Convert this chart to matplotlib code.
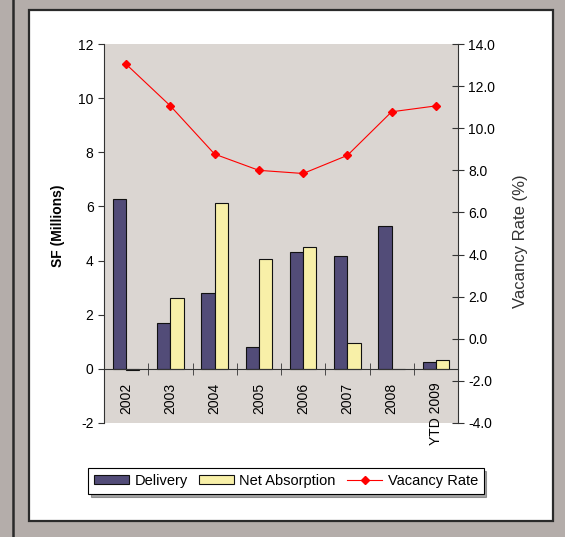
import numpy as np
import matplotlib
matplotlib.use("Agg")
import matplotlib.pyplot as plt
from matplotlib.patches import Rectangle
from matplotlib.lines import Line2D

plt.rcParams["font.family"] = ["Liberation Sans", "DejaVu Sans"]
plt.rcParams["axes.unicode_minus"] = False

# ---- data ----
years = ["2002", "2003", "2004", "2005", "2006", "2007", "2008", "YTD 2009"]
delivery = [6.29, 1.69, 2.81, 0.81, 4.30, 4.16, 5.29, 0.27]
net_absorption = [-0.05, 2.62, 6.13, 4.04, 4.49, 0.95, 0.0, 0.32]
vacancy_rate = [13.04, 11.06, 8.77, 8.00, 7.85, 8.71, 10.78, 11.06]

DELIVERY_COLOR = "#524c78"
ABSORB_COLOR = "#f8f0a8"
VACANCY_COLOR = "#ff0000"
PANEL_GRAY = "#b4adaa"
PLOT_BG = "#dbd6d2"

W, H = 565, 537
fig = plt.figure(figsize=(W / 100, H / 100), dpi=100, facecolor=PANEL_GRAY)

# white card with dark frame, plus the dark rule on the far left
fig.patches.append(Rectangle((29 / W, 1 - 521 / H), (553 - 29) / W, (521 - 10) / H,
                             transform=fig.transFigure, facecolor="white",
                             edgecolor="#2a2a2a", linewidth=1.6, zorder=-2))
fig.lines.append(Line2D([12.5 / W, 12.5 / W], [0, 1], transform=fig.transFigure,
                        color="#2a2a2a", linewidth=1.8, zorder=-2))

ax = fig.add_axes([104 / W, 1 - 423 / H, (458 - 104) / W, (423 - 44) / H])
ax.set_facecolor(PLOT_BG)

x = np.arange(len(years))
bw = 0.3
ax.bar(x - bw / 2, delivery, bw, color=DELIVERY_COLOR, edgecolor="#111111",
       linewidth=0.8, label="Delivery", zorder=2)
ax.bar(x + bw / 2, net_absorption, bw, color=ABSORB_COLOR, edgecolor="#111111",
       linewidth=0.8, label="Net Absorption", zorder=2)

ax.set_xlim(-0.5, len(years) - 0.5)
ax.set_ylim(-2, 12)
ax.set_yticks(np.arange(-2, 13, 2))

# category axis sits on the zero line, labels hang below it
for side in ("top", "right"):
    ax.spines[side].set_visible(False)
ax.spines["bottom"].set_position(("data", 0))
ax.spines["bottom"].set_color("#333333")
ax.spines["left"].set_color("#333333")
ax.set_xticks(x)
ax.set_xticklabels(years, rotation=90, va="top", ha="center", fontsize=10)
ax.set_xticks(np.arange(0.5, len(years) - 0.5, 1), minor=True)
ax.tick_params(axis="x", which="major", length=0, pad=10)
ax.tick_params(axis="x", which="minor", direction="inout", length=8, color="#333333")
ax.tick_params(axis="y", direction="out", length=4, labelsize=10, color="#333333")
ax.set_ylabel("SF (Millions)", fontsize=10, fontweight="bold")
ax.yaxis.set_label_coords(-0.11, 0.52)

# vacancy rate on the secondary axis
ax2 = ax.twinx()
ax2.plot(x, vacancy_rate, color=VACANCY_COLOR, linewidth=0.8, marker="D",
         markersize=4, markeredgecolor=VACANCY_COLOR, label="Vacancy Rate")
ax2.set_ylim(-4, 14)
ax2.set_yticks(np.arange(-4, 15, 2))
ax2.set_yticklabels([f"{v:.1f}" for v in np.arange(-4, 15, 2)])
for side in ("top", "left", "bottom"):
    ax2.spines[side].set_visible(False)
ax2.spines["right"].set_color("#333333")
ax2.tick_params(axis="y", direction="inout", length=8, labelsize=10, color="#333333")
ax2.set_ylabel("Vacancy Rate (%)", fontsize=12, color="#333333")
ax2.yaxis.set_label_coords(1.155, 0.48)

handles = ax.get_legend_handles_labels()[0] + ax2.get_legend_handles_labels()[0]
labels = ["Delivery", "Net Absorption", "Vacancy Rate"]
leg = fig.legend(handles, labels, loc="center", bbox_to_anchor=(286 / W, 1 - 481 / H),
                 ncol=3, fontsize=10.5, frameon=True, fancybox=False, shadow=True,
                 edgecolor="black", handlelength=2.4, handleheight=0.6,
                 columnspacing=0.8, handletextpad=0.35, borderpad=0.4)
leg.get_frame().set_linewidth(0.8)

fig.savefig("out.png", dpi=100, facecolor=fig.get_facecolor())
